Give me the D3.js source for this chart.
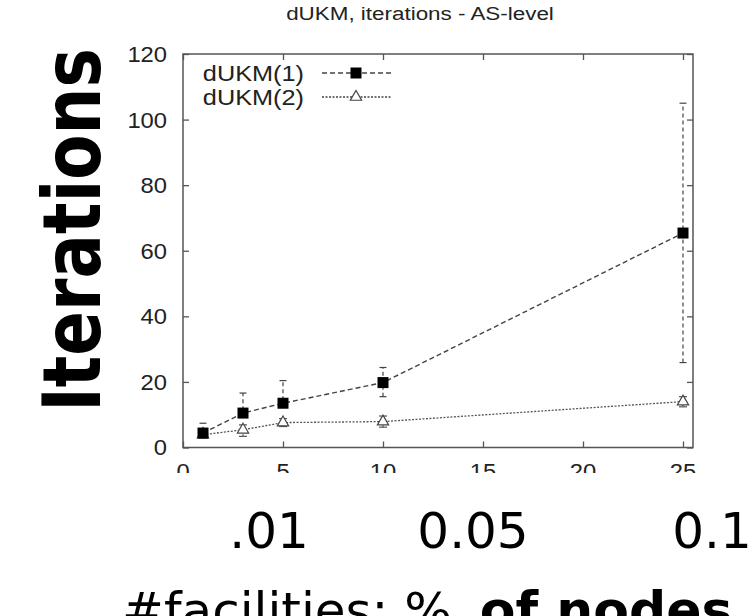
<!DOCTYPE html>
<html>
<head>
<meta charset="utf-8">
<script src="https://cdn.jsdelivr.net/npm/d3@7"></script>
<style>
  html, body { margin: 0; padding: 0; background: #fff; }
  svg { display: block; }
</style>
</head>
<body>
<script>
// Facility counts (x) and mean iterations with min/max bars per variant
const facilities = [1, 3, 5, 10, 25];
const ukm1Mean = [4.4, 10.5, 13.5, 19.8, 65.4];
const ukm1Low  = [3.0, 9.2, 12.3, 15.5, 25.9];
const ukm1High = [7.4, 16.6, 20.4, 24.4, 105.0];
const ukm2Mean = [3.9, 5.4, 7.6, 7.9, 14.0];
const ukm2Low  = [2.9, 3.4, 6.4, 6.2, 12.4];
const ukm2High = [5.0, 6.9, 8.8, 9.6, 15.5];
const seriesNames = ["dUKM(1)", "dUKM(2)"];
const xTicks = [0, 5, 10, 15, 20, 25];
const yTicks = [0, 20, 40, 60, 80, 100, 120];
const fractionLabels = [".01", "0.05", "0.1"];
const fractionAt = [4.3, 14.5, 26.45];

const W = 752, H = 616;
const svg = d3.select("body").append("svg").attr("width", W).attr("height", H);

const plotL = 183, plotR = 693, plotT = 54, plotB = 447.5;
const x = d3.scaleLinear().domain([0, 25.5]).range([plotL, plotR]);
const y = d3.scaleLinear().domain([0, 120]).range([plotB, plotT]);

const sans = "'Liberation Sans', Arial, Helvetica, sans-serif";
const deja = "'DejaVu Sans', sans-serif";

// Title (gnuplot text is slightly wide)
svg.append("text").attr("transform", "translate(420,20) scale(1.18,1)")
  .attr("text-anchor", "middle").attr("font-family", sans).attr("font-size", 19)
  .attr("fill", "#222").text("dUKM, iterations - AS-level");

// Axes with mirrored inward ticks
const tickLen = 6;
const axisG = svg.append("g");
axisG.append("g").attr("transform", `translate(0,${plotB})`)
  .call(d3.axisBottom(x).tickValues(xTicks).tickSize(-tickLen).tickFormat(""))
  .call(g => g.select(".domain").remove());
axisG.append("g").attr("transform", `translate(0,${plotT})`)
  .call(d3.axisTop(x).tickValues(xTicks).tickSize(-tickLen).tickFormat(""))
  .call(g => g.select(".domain").remove());
axisG.append("g").attr("transform", `translate(${plotL},0)`)
  .call(d3.axisLeft(y).tickValues(yTicks).tickSize(-tickLen).tickFormat(""))
  .call(g => g.select(".domain").remove());
axisG.append("g").attr("transform", `translate(${plotR},0)`)
  .call(d3.axisRight(y).tickValues(yTicks).tickSize(-tickLen).tickFormat(""))
  .call(g => g.select(".domain").remove());
axisG.selectAll(".tick line").attr("stroke", "#555").attr("stroke-width", 1.3);

svg.append("rect").attr("x", plotL).attr("y", plotT)
  .attr("width", plotR - plotL).attr("height", plotB - plotT)
  .attr("fill", "none").attr("stroke", "#555").attr("stroke-width", 1.5);

// Y tick labels
svg.append("g").selectAll("text").data(yTicks).join("text")
  .attr("transform", d => `translate(${plotL - 16},${y(d)}) scale(1.08,1)`)
  .attr("dy", "0.36em").attr("text-anchor", "end")
  .attr("font-family", sans).attr("font-size", 22).attr("fill", "#222")
  .text(d => d);

// X tick labels, cut off below by the panel edge
svg.append("clipPath").attr("id", "xlabClip")
  .append("rect").attr("x", 0).attr("y", 0).attr("width", W).attr("height", 473);
svg.append("g").attr("clip-path", "url(#xlabClip)")
  .selectAll("text").data(xTicks).join("text")
  .attr("transform", d => `translate(${x(d)},479) scale(1.08,1)`)
  .attr("text-anchor", "middle")
  .attr("font-family", sans).attr("font-size", 22).attr("fill", "#222")
  .text(d => d);

// Series
const s1 = facilities.map((f, i) => ({ x: f, m: ukm1Mean[i], lo: ukm1Low[i], hi: ukm1High[i] }));
const s2 = facilities.map((f, i) => ({ x: f, m: ukm2Mean[i], lo: ukm2Low[i], hi: ukm2High[i] }));
const line = d3.line().x(d => x(d.x)).y(d => y(d.m));

function errorBars(data, dash, capW, color) {
  const g = svg.append("g").attr("stroke", color).attr("stroke-width", 1.2).attr("fill", "none");
  g.selectAll("line.v").data(data).join("line").attr("class", "v")
    .attr("x1", d => x(d.x)).attr("x2", d => x(d.x))
    .attr("y1", d => y(d.lo)).attr("y2", d => y(d.hi))
    .attr("stroke-dasharray", dash);
  g.selectAll("line.t").data(data).join("line").attr("class", "t")
    .attr("x1", d => x(d.x) - capW).attr("x2", d => x(d.x) + capW)
    .attr("y1", d => y(d.hi)).attr("y2", d => y(d.hi));
  g.selectAll("line.b").data(data).join("line").attr("class", "b")
    .attr("x1", d => x(d.x) - capW).attr("x2", d => x(d.x) + capW)
    .attr("y1", d => y(d.lo)).attr("y2", d => y(d.lo));
}

// dUKM(2): dotted line, open triangles
errorBars(s2, "2,1.5", 4, "#555");
svg.append("path").datum(s2).attr("d", line)
  .attr("fill", "none").attr("stroke", "#555").attr("stroke-width", 1.3)
  .attr("stroke-dasharray", "2,1.5");
const tri = d3.symbol().type(d3.symbolTriangle).size(55);
svg.append("g").selectAll("path").data(s2).join("path")
  .attr("transform", d => `translate(${x(d.x)},${y(d.m)})`)
  .attr("d", tri).attr("fill", "#fff").attr("stroke", "#444").attr("stroke-width", 1.2);

// dUKM(1): dashed line, filled squares
errorBars(s1, "4,3", 3.5, "#444");
svg.append("path").datum(s1).attr("d", line)
  .attr("fill", "none").attr("stroke", "#444").attr("stroke-width", 1.4)
  .attr("stroke-dasharray", "5,3");
const sq = 11;
svg.append("g").selectAll("rect").data(s1).join("rect")
  .attr("x", d => x(d.x) - sq / 2).attr("y", d => y(d.m) - sq / 2)
  .attr("width", sq).attr("height", sq).attr("fill", "#000");

// Legend
const legend = svg.append("g");
const rows = [
  { name: seriesNames[0], yy: 73, dash: "5,3", marker: "sq" },
  { name: seriesNames[1], yy: 97, dash: "2,1.5", marker: "tri" }
];
rows.forEach(r => {
  legend.append("text").attr("transform", `translate(304,${r.yy}) scale(1.15,1)`)
    .attr("dy", "0.36em")
    .attr("text-anchor", "end").attr("font-family", sans).attr("font-size", 22)
    .attr("fill", "#222").text(r.name);
  legend.append("line").attr("x1", 322).attr("x2", 391).attr("y1", r.yy).attr("y2", r.yy)
    .attr("stroke", "#444").attr("stroke-width", 1.3).attr("stroke-dasharray", r.dash);
  if (r.marker === "sq") {
    legend.append("rect").attr("x", 356 - sq / 2).attr("y", r.yy - sq / 2)
      .attr("width", sq).attr("height", sq).attr("fill", "#000");
  } else {
    legend.append("path").attr("transform", `translate(356,${r.yy})`).attr("d", tri)
      .attr("fill", "#fff").attr("stroke", "#444").attr("stroke-width", 1.2);
  }
});

// Large y-axis title
svg.append("text")
  .attr("transform", `translate(100,230) rotate(-90) scale(1,1.22)`)
  .attr("text-anchor", "middle").attr("font-family", deja).attr("font-weight", "bold")
  .attr("font-size", 66).attr("fill", "#000").text("Iterations");

// Fraction-of-nodes labels under the axis
svg.append("g").selectAll("text").data(fractionLabels).join("text")
  .attr("x", (d, i) => x(fractionAt[i])).attr("y", 548)
  .attr("text-anchor", "middle").attr("font-family", deja).attr("font-size", 50)
  .attr("fill", "#000").text(d => d);

// Bottom axis title
const bt = svg.append("text").attr("x", 122).attr("y", 628)
  .attr("font-family", deja).attr("font-size", 50).attr("fill", "#000");
bt.append("tspan").text("#facilities: %");
bt.append("tspan").attr("dx", 28).attr("font-weight", "bold").attr("font-size", 52).text("of nodes");
</script>
</body>
</html>
